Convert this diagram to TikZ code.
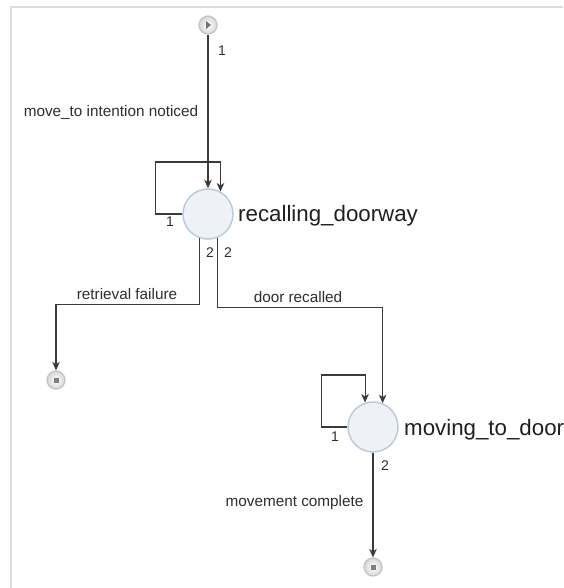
\documentclass[tikz,border=0pt]{standalone}
\usepackage{fontspec}
\setmainfont{Liberation Sans}
\usetikzlibrary{arrows.meta,calc}
\definecolor{edgec}{HTML}{3A3A3A}
\definecolor{textc}{HTML}{2E2E2E}
\definecolor{statefill}{HTML}{EEF1F5}
\definecolor{stateborder}{HTML}{BCCBDA}
\definecolor{pseudoborder}{HTML}{C4C4C4}
\definecolor{framec}{HTML}{DDDDDD}
\tikzset{
  state/.style={circle, minimum size=50pt, inner sep=0pt, draw=stateborder, line width=1.5pt, fill=statefill},
  pseudo/.style={circle, minimum size=18pt, inner sep=0pt, draw=pseudoborder, line width=1.3pt, inner color=white, outer color=black!16},
  arr/.style={draw=edgec, line width=1.1pt, -{Stealth[length=8.5pt,width=7.5pt,inset=2.5pt]}},
  lbl/.style={font=\fontsize{15.3}{17}\selectfont, text=textc, inner sep=0pt},
  num/.style={font=\fontsize{14}{16}\selectfont, text=textc, inner sep=0pt},
  title/.style={font=\fontsize{22.3}{26}\selectfont, text=black!88, inner sep=0pt, anchor=west},
  frameline/.style={draw=framec, line width=1.4pt}
}
\begin{document}
\begin{tikzpicture}[x=1pt,y=-1pt]
\useasboundingbox (0,0) rectangle (563,588);
% frame
\coordinate (fc) at (11,7);
\coordinate (fr) at (562.5,7);
\coordinate (fb) at (11,588);
\draw[frameline] (fr) -- (fc) -- (fb);
% nodes
\node[pseudo, path picture={\fill[black!55] ($(path picture bounding box.center)+(-1.8,-3.8)$) -- ++(4.8,3.8) -- ++(-4.8,3.8) -- cycle;}] (start) at (208,25) {};
\node[state] (rec) at (208,214) {};
\node[title] (rect) at (238,216) {recalling\_doorway};
\node[state] (mov) at (373,427) {};
\node[title] (movt) at (404,430) {moving\_to\_door};
\node[pseudo, path picture={\fill[black!50] ($(path picture bounding box.center)+(-2.5,-2.5)$) rectangle ++(5,5);}] (end1) at (56,380) {};
\node[pseudo, path picture={\fill[black!50] ($(path picture bounding box.center)+(-2.5,-2.5)$) rectangle ++(5,5);}] (end2) at (373,567) {};
% edges
\draw[arr] (start) -- (rec);
\draw[arr] (rec.west) -- ++(-27,0) -- ++(0,-52) -| (rec.61.3);
\draw[arr] (rec.251.3) -- ++(0,66.5) -| (end1);
\draw[arr] (rec.291.1) -- ++(0,69.7) -| (mov.68.9);
\draw[arr] (mov.west) -- ++(-26,0) -- ++(0,-52) -| (mov.108.7);
\draw[arr] (mov) -- (end2);
% labels
\node[num] (n1) at (222,51) {1};
\node[lbl] (l1) at (111,112) {move\_to intention noticed};
\node[num] (n2) at (170,222) {1};
\node[num] (n3) at (210,253) {2};
\node[num] (n4) at (228,253) {2};
\node[lbl] (l2) at (127,294) {retrieval failure};
\node[lbl] (l3) at (298,297) {door recalled};
\node[num] (n5) at (335,437) {1};
\node[num] (n6) at (385,466) {2};
\node[lbl] (l4) at (294.5,503) {movement complete};
\end{tikzpicture}
\end{document}
